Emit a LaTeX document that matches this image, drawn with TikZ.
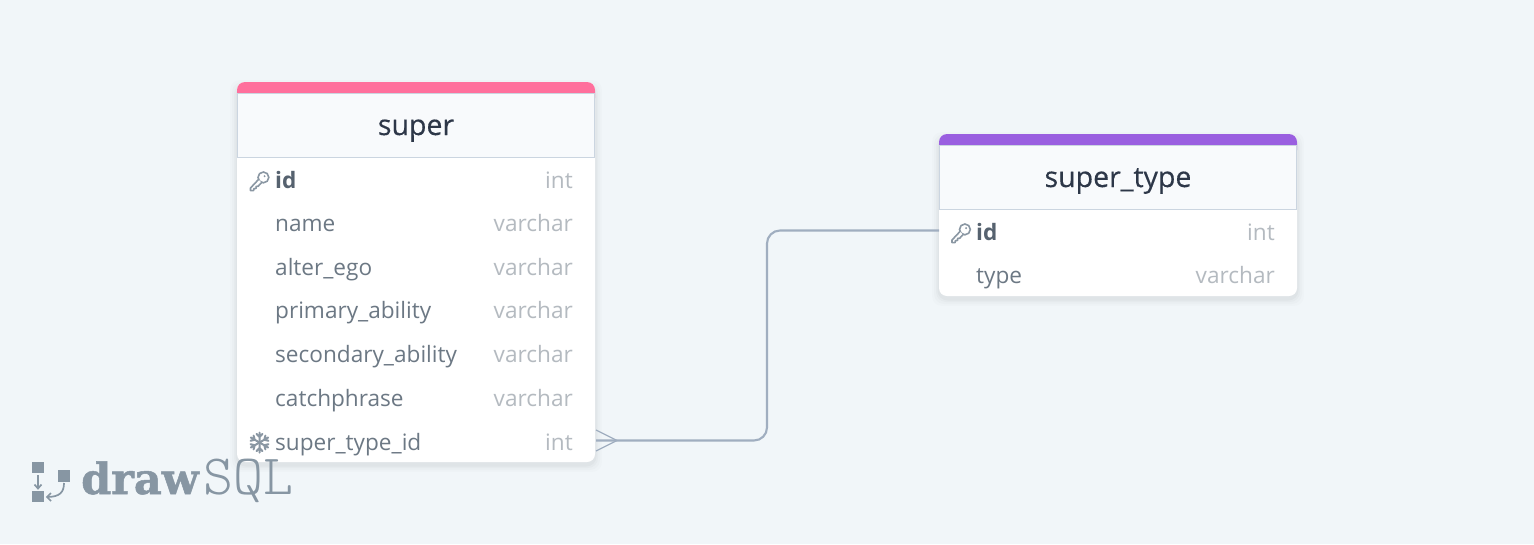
\documentclass[tikz,border=0pt]{standalone}
\usepackage{fontspec}
\setmainfont{Open Sans}
\newfontfamily\titlefont{Open Sans}[FakeBold=0.35]
\newfontfamily\logobold{DejaVu Serif Bold}[FakeBold=1.2]
\newfontfamily\logolight{Latin Modern Mono Light}
\definecolor{bgc}{HTML}{F1F6F9}
\definecolor{pinkc}{HTML}{FF6F9C}
\definecolor{purplec}{HTML}{9A5FE0}
\definecolor{headc}{HTML}{F8FAFC}
\definecolor{bordc}{HTML}{CBD5E0}
\definecolor{titlec}{HTML}{2D3748}
\definecolor{namec}{HTML}{6C7884}
\definecolor{pkc}{HTML}{56626F}
\definecolor{typec}{HTML}{B4BAC0}
\definecolor{linec}{HTML}{A0AEC0}
\definecolor{iconc}{HTML}{8A97A3}
\definecolor{logoc}{HTML}{8796A3}
\tikzset{
  cardbody/.style={anchor=north west,fill=white,rounded corners=8pt,inner sep=0,outer sep=0},
  cardtop/.style={anchor=north west,rounded corners=8pt,inner sep=0,outer sep=0,minimum width=358pt,minimum height=24pt},
  cardhead/.style={anchor=north west,fill=headc,draw=bordc,line width=1pt,inner sep=0,outer sep=0,minimum width=357pt,minimum height=64pt},
  cardtitle/.style={anchor=base,inner sep=0,text=titlec,font=\titlefont\fontsize{28.5}{29}\selectfont},
  colname/.style={anchor=base west,inner sep=0,text=namec,font=\fontsize{22.6}{23}\selectfont},
  colpk/.style={colname,text=pkc,font=\fontsize{22.6}{23}\selectfont\bfseries},
  coltype/.style={anchor=base east,inner sep=0,text=typec,font=\fontsize{22.6}{23}\selectfont},
  relline/.style={draw=linec,line width=2.1pt},
  crow/.style={draw=linec,line width=1.3pt},
  logoshape/.style={fill=logoc,draw=none},
  logoline/.style={draw=logoc,line width=1.7pt},
  pics/keyicon/.style={code={
    \draw[iconc,line width=1.6pt] (4.4,-3.6) circle[radius=5.4];
    \fill[white] (-0.6,-1.4) -- (-8.5,7.0) -- (-8.5,9.6) -- (-5.5,9.6) -- (-5.0,7.6) -- (-3.0,7.4) -- (-2.8,5.4) -- (-0.8,5.2) -- (2.6,1.6) -- cycle;
    \draw[iconc,line width=1.6pt,line join=round,line cap=round]
      (-0.6,-1.4) -- (-8.5,7.0) -- (-8.5,9.6) -- (-5.5,9.6) -- (-5.0,7.6) -- (-3.0,7.4) -- (-2.8,5.4) -- (-0.8,5.2) -- (2.6,1.6);
    \fill[iconc] (5.6,-4.8) circle[radius=1.1];
  }},
  pics/flakeicon/.style={code={
    \foreach \a in {30,90,...,330}{
      \draw[iconc,line width=2pt,line cap=round,rotate=\a]
        (0,0) -- (10,0) (5.5,0) -- (8.6,3) (5.5,0) -- (8.6,-3);
    }
  }}
}
\begin{document}
\begin{tikzpicture}[x=1pt,y=-1pt]
\useasboundingbox[fill=bgc] (0,0) rectangle (1534,544);
% soft shadows
\foreach \d/\o in {7/0.010,5/0.014,3/0.018,1.5/0.022}{
  \fill[black,opacity=\o,rounded corners=10pt] (237-\d,84-\d+3) rectangle (595+\d,462+\d+3);
  \fill[black,opacity=\o,rounded corners=10pt] (939-\d,136-\d+3) rectangle (1297+\d,296+\d+3);
}
% card: super
\node[cardbody,minimum width=358pt,minimum height=380pt] (superbody) at (237,82) {};
\node[cardtop,fill=pinkc] (supertop) at (237,82) {};
\node[cardhead] (superhead) at (237.6,93) {};
\node[cardtitle] (supertitle) at (416,135) {super};
\foreach \nm/\lbl/\ty/\yy in {b/name/varchar/231,c/alter\_ego/varchar/275,d/primary\_ability/varchar/318,e/secondary\_ability/varchar/362,f/catchphrase/varchar/406}{
  \node[colname] (sn\nm) at (275,\yy) {\lbl};
  \node[coltype] (st\nm) at (573,\yy) {\ty};
}
\node[colpk] (snid) at (275,188) {id};
\node[coltype] (stid) at (573,188) {int};
\node[colname] (snfk) at (275,450) {super\_type\_id};
\node[coltype] (stfk) at (573,450) {int};
\pic at (259,181) {keyicon};
\pic at (259.5,442.5) {flakeicon};
% card: super_type
\node[cardbody,minimum width=358pt,minimum height=162pt] (typebody) at (939,134) {};
\node[cardtop,fill=purplec] (typetop) at (939,134) {};
\node[cardhead] (typehead) at (939.6,145) {};
\node[cardtitle] (typetitle) at (1118,187) {super\_type};
\node[colpk] (tnid) at (976,240) {id};
\node[coltype] (ttid) at (1275,240) {int};
\node[colname] (tntype) at (976,283) {type};
\node[coltype] (tttype) at (1275,283) {varchar};
\pic at (960.5,233) {keyicon};
% connector
\coordinate (fkport) at (596,440.5);
\coordinate (fktip) at (617,440.5);
\coordinate (fkup) at (596,430);
\coordinate (fkdown) at (596,451);
\coordinate (bend) at (767,335);
\coordinate (pkport) at (939,230.5);
\draw[relline,rounded corners=13pt] (fkport) -| (bend) |- (pkport);
\draw[crow] (fkup) -- (fktip) -- (fkdown);
% logo
\fill[logoshape] (32,462) rectangle (44,473);
\fill[logoshape] (58,470) rectangle (70,482);
\fill[logoshape] (32,491) rectangle (44,502);
\draw[logoline] (38,475) -- (38,488);
\draw[logoline] (34.5,484.5) -- (38,488.5) -- (41.5,484.5);
\draw[logoline] (64,483) .. controls (64,492) and (60,497) .. (47,497);
\draw[logoline] (51,493) -- (47,497) -- (51,501);
\node[anchor=base west,inner sep=0,text=logoc,font=\logobold\fontsize{43}{43}\selectfont] (logodraw) at (81,494) {draw};
\node[anchor=base west,inner sep=0,text=logoc,font=\logolight\fontsize{57}{57}\selectfont] (logosql) at (203,494) {SQL};
\end{tikzpicture}
\end{document}
